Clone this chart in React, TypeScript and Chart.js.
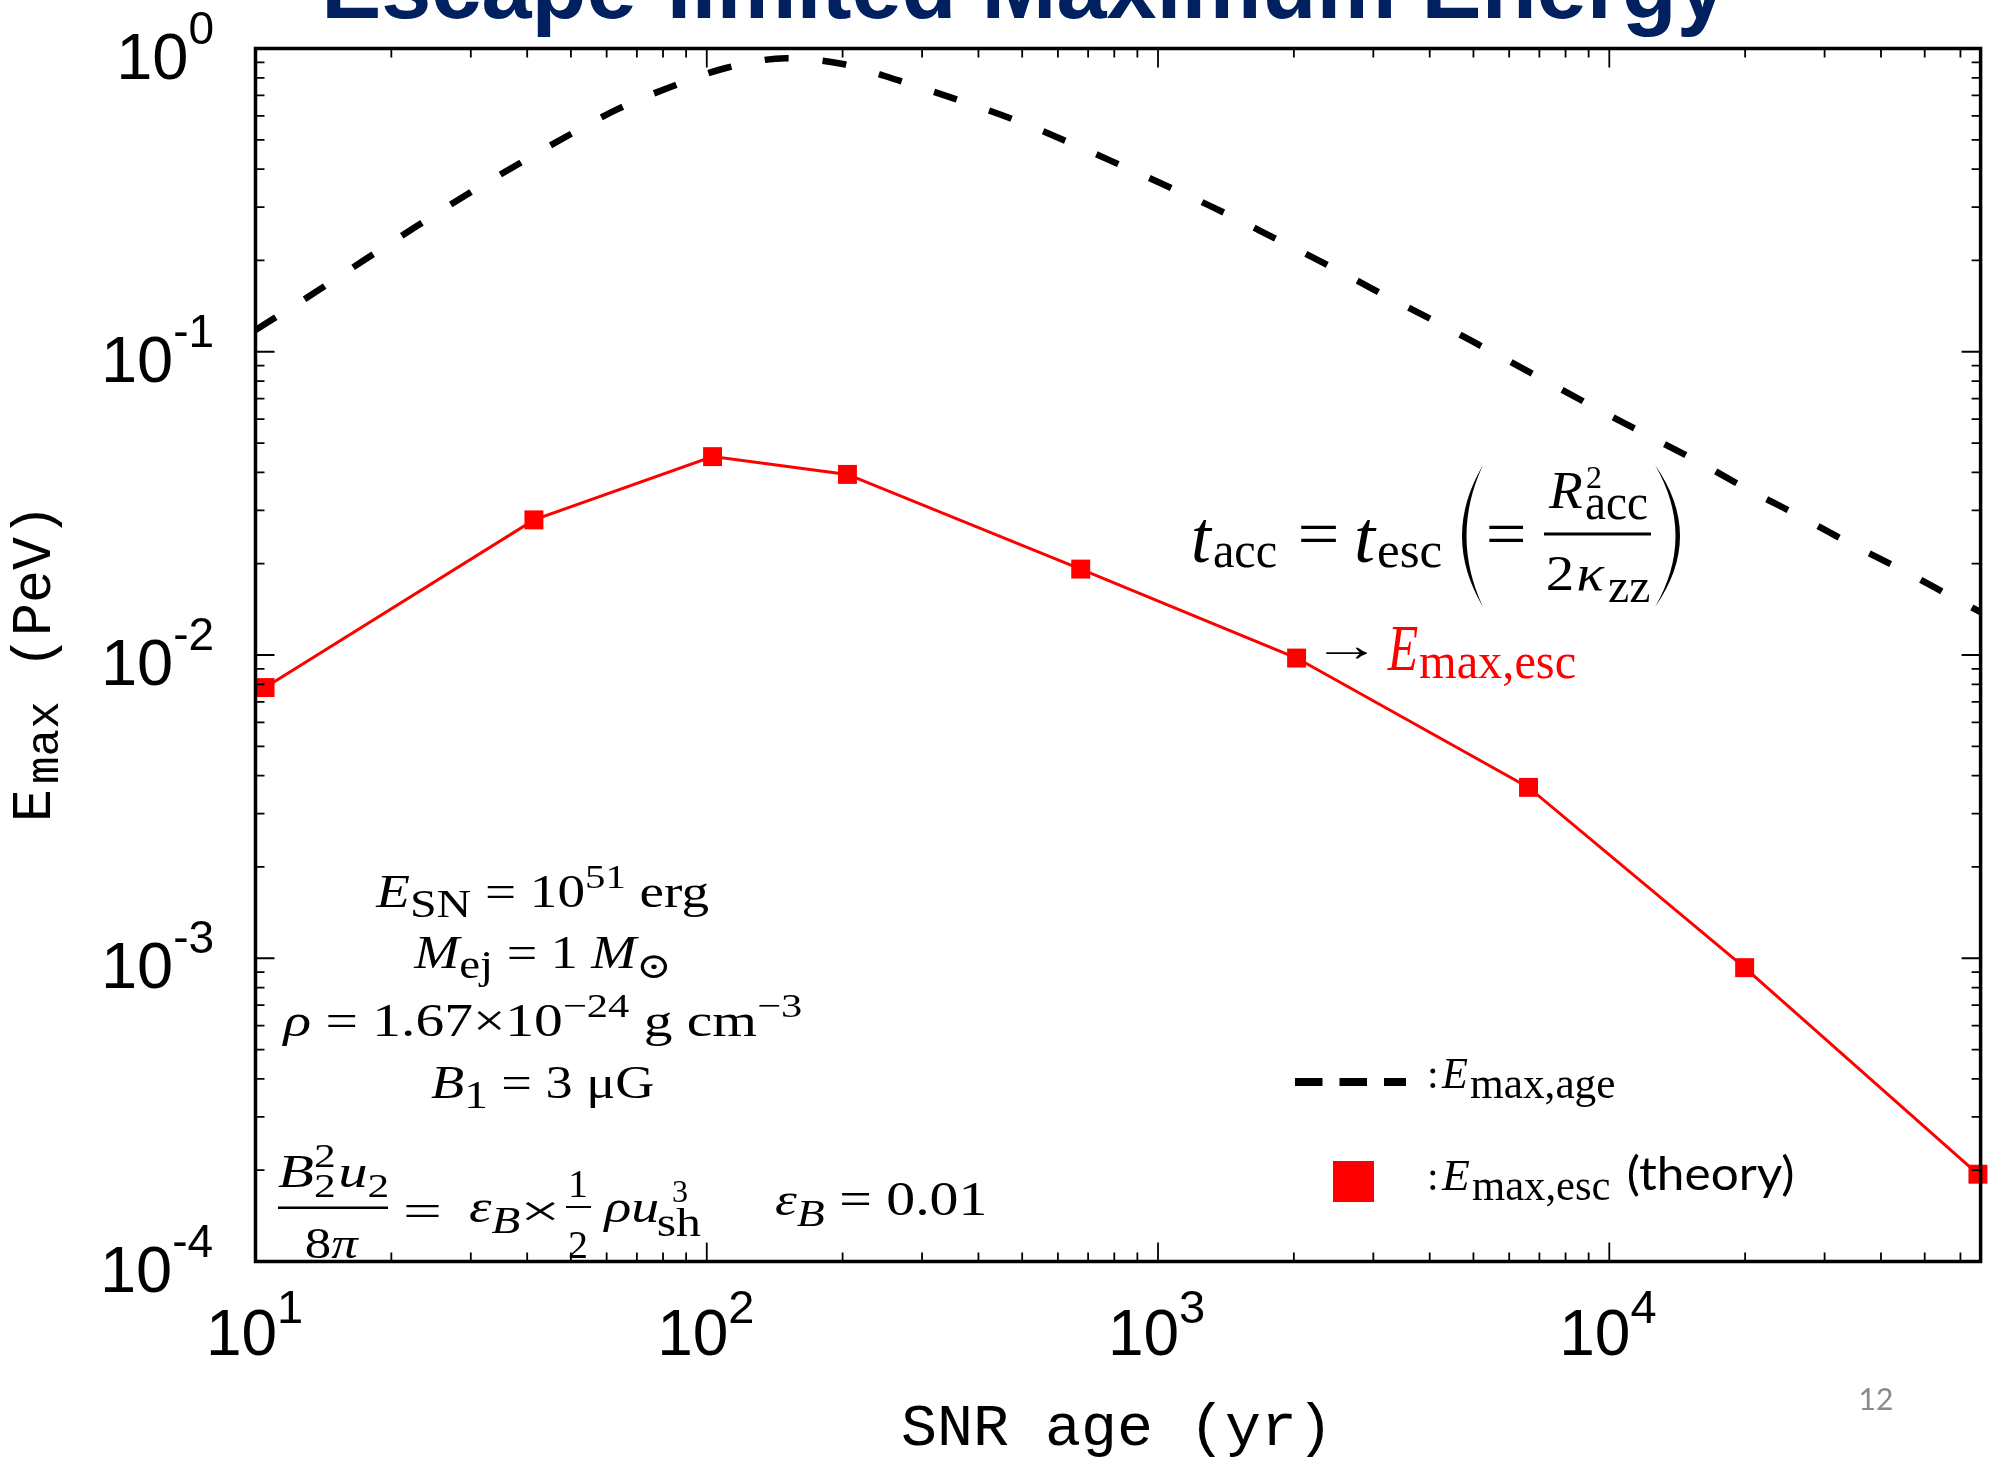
import React, { useEffect, useRef } from 'react';
import { Chart, registerables } from 'chart.js';

Chart.register(...registerables);

// ---------- data ----------
// E_max,esc (theory): red squares
const escAges = [10.5, 41.4, 103, 205, 674, 2028, 6622, 19950, 65600];
const escEmax = [7.81e-3, 0.0279, 0.0451, 0.0394, 0.0192, 9.77e-3, 3.66e-3, 9.31e-4, 1.94e-4];

// E_max,age: dashed black curve
const ageAges = [10, 13.56, 17.42, 22.38, 28.87, 37.35, 48.52, 63.3, 83.4, 110.8, 149.7, 200.2, 267.3, 343, 475.3, 622.9, 821.7, 1080, 1415, 1854, 2424, 3155, 4137, 5381, 7050, 9143, 11980, 15610, 20250, 26530, 34410, 45080, 58750, 66500];
const ageEmax = [0.1179, 0.157, 0.2007, 0.2554, 0.3246, 0.4076, 0.5096, 0.63, 0.748, 0.864, 0.928, 0.889, 0.783, 0.694, 0.5856, 0.4968, 0.4139, 0.3446, 0.2855, 0.2327, 0.1903, 0.1543, 0.1253, 0.1016, 0.0818, 0.0663, 0.0536, 0.0437, 0.0352, 0.0286, 0.0232, 0.0189, 0.01527, 0.01386];

// axes
const xMin = 10;
const xMax = 66500;
const yMin = 1e-4;
const yMax = 1;
const xMajorTicks = [10, 100, 1000, 10000];
const xTickExponents = ['1', '2', '3', '4'];
const yMajorTicks = [1, 0.1, 0.01, 0.001, 0.0001];
const yTickExponents = ['0', '-1', '-2', '-3', '-4'];

const titleText = 'Escape-limited Maximum Energy';
const xTitle = 'SNR age (yr)';
const pageNumber = '12';

// ---------- fonts ----------
const SERIF = '"Liberation Serif", "DejaVu Serif", "DejaVu Sans", serif';
const SANS = '"Liberation Sans", Arial, sans-serif';
const MONO = '"Liberation Mono", "DejaVu Sans Mono", monospace';
const LATO = 'Lato, "Open Sans", sans-serif';

type Seg = { t: string; s: number; it?: boolean; b?: boolean; dy?: number; gap?: number; fam?: string; col?: string };
type RichOpts = { w?: number; anchor?: 'left' | 'right' | 'center'; col?: string };

function fontStr(g: Seg) {
  return `${g.it ? 'italic ' : ''}${g.b ? 'bold ' : ''}${g.s}px ${g.fam ?? SERIF}`;
}

function rich(ctx: CanvasRenderingContext2D, segs: Seg[], x: number, y: number, o: RichOpts = {}) {
  ctx.save();
  ctx.textAlign = 'left';
  ctx.textBaseline = 'alphabetic';
  const pos: number[] = [];
  let cur = 0;
  let inkL = Infinity;
  let inkR = -Infinity;
  for (const g of segs) {
    ctx.font = fontStr(g);
    cur += g.gap ?? 0;
    const m = ctx.measureText(g.t);
    inkL = Math.min(inkL, cur - m.actualBoundingBoxLeft);
    inkR = Math.max(inkR, cur + m.actualBoundingBoxRight);
    pos.push(cur);
    cur += m.width;
  }
  const nat = inkR - inkL;
  const sx = o.w ? o.w / nat : 1;
  const W = nat * sx;
  let left = x;
  if (o.anchor === 'right') left = x - W;
  else if (o.anchor === 'center') left = x - W / 2;
  ctx.translate(left, y);
  ctx.scale(sx, 1);
  ctx.translate(-inkL, 0);
  segs.forEach((g, i) => {
    ctx.font = fontStr(g);
    ctx.fillStyle = g.col ?? o.col ?? '#000';
    ctx.fillText(g.t, pos[i], g.dy ?? 0);
  });
  ctx.restore();
}

function paren(ctx: CanvasRenderingContext2D, xl: number, xr: number, top: number, bot: number, isLeft: boolean) {
  const mid = (top + bot) / 2;
  ctx.save();
  ctx.fillStyle = '#000';
  ctx.beginPath();
  if (isLeft) {
    const cO = 2 * xl - xr;
    const cI = 2 * (xl + 4.5) - xr;
    ctx.moveTo(xr, top);
    ctx.quadraticCurveTo(cO, mid, xr, bot);
    ctx.quadraticCurveTo(cI, mid, xr, top);
  } else {
    const cO = 2 * xr - xl;
    const cI = 2 * (xr - 4.5) - xl;
    ctx.moveTo(xl, top);
    ctx.quadraticCurveTo(cO, mid, xl, bot);
    ctx.quadraticCurveTo(cI, mid, xl, top);
  }
  ctx.closePath();
  ctx.fill();
  ctx.restore();
}

const framePlugin = {
  id: 'frameTicks',
  afterDatasetsDraw(chart: any) {
    const { ctx, chartArea: a, scales } = chart;
    const xs = scales.x;
    const ys = scales.y;
    ctx.save();
    ctx.strokeStyle = '#000';
    ctx.lineWidth = 1.8;
    ctx.beginPath();
    xMajorTicks.forEach((d) => {
      for (let m = 1; m <= 9; m++) {
        const v = d * m;
        if (v < xMin - 1e-9 || v > xMax) continue;
        const p = xs.getPixelForValue(v);
        const L = m === 1 ? 19 : 9;
        ctx.moveTo(p, a.bottom);
        ctx.lineTo(p, a.bottom - L);
        ctx.moveTo(p, a.top);
        ctx.lineTo(p, a.top + L);
      }
    });
    yMajorTicks.forEach((d) => {
      for (let m = 1; m <= 9; m++) {
        const v = d * m;
        if (v < yMin * 0.999 || v > yMax * 1.001) continue;
        const p = ys.getPixelForValue(v);
        const L = m === 1 ? 19 : 9;
        ctx.moveTo(a.left, p);
        ctx.lineTo(a.left + L, p);
        ctx.moveTo(a.right, p);
        ctx.lineTo(a.right - L, p);
      }
    });
    ctx.stroke();
    ctx.lineWidth = 3.5;
    ctx.strokeRect(a.left, a.top, a.right - a.left, a.bottom - a.top);
    ctx.restore();
  },
};

const textPlugin = {
  id: 'texts',
  afterDraw(chart: any) {
    const { ctx, chartArea: a, scales } = chart;
    const xs = scales.x;
    const ys = scales.y;
    ctx.save();

    // title (cut at the top of the page)
    ctx.save();
    ctx.font = `bold 90px ${SANS}`;
    ctx.fillStyle = '#002060';
    ctx.textAlign = 'center';
    ctx.textBaseline = 'alphabetic';
    ctx.fillText(titleText, 1024, 17.5);
    ctx.restore();

    // y tick labels
    yMajorTicks.forEach((v, i) => {
      const p = ys.getPixelForValue(v);
      rich(ctx, [
        { t: '10', s: 65, fam: SANS },
        { t: yTickExponents[i], s: 46, dy: -35, fam: SANS },
      ], a.left - 43, p + 30, { anchor: 'right' });
    });
    // x tick labels
    xMajorTicks.forEach((v, i) => {
      const p = xs.getPixelForValue(v);
      rich(ctx, [
        { t: '10', s: 64, fam: SANS },
        { t: xTickExponents[i], s: 47, dy: -32, fam: SANS },
      ], p, 1355, { anchor: 'center' });
    });

    // axis titles
    ctx.save();
    ctx.fillStyle = '#000';
    ctx.textAlign = 'center';
    ctx.textBaseline = 'alphabetic';
    ctx.font = `60px ${MONO}`;
    ctx.fillText(xTitle, 1117, 1445);
    ctx.restore();

    ctx.save();
    ctx.fillStyle = '#000';
    ctx.translate(50, 822);
    ctx.rotate(-Math.PI / 2);
    ctx.textAlign = 'left';
    ctx.textBaseline = 'alphabetic';
    ctx.font = `55px ${MONO}`;
    ctx.fillText('E', 0, 0);
    ctx.font = `46px ${MONO}`;
    ctx.fillText('max', 38, 8);
    ctx.font = `55px ${MONO}`;
    ctx.fillText('(PeV)', 153, 0);
    ctx.restore();

    // page number
    ctx.save();
    ctx.font = `30px ${LATO}`;
    ctx.fillStyle = '#8a8a8a';
    ctx.textAlign = 'center';
    ctx.fillText(pageNumber, 1876, 1410);
    ctx.restore();

    // ---- equation t_acc = t_esc (= R^2_acc / 2 kappa_zz) ----
    rich(ctx, [{ t: 't', s: 74, it: true }, { t: 'acc', s: 50, dy: 5, gap: 2 }], 1194, 562, { w: 82 });
    rich(ctx, [{ t: '=', s: 66 }], 1301, 556, { w: 35 });
    rich(ctx, [{ t: 't', s: 74, it: true }, { t: 'esc', s: 50, dy: 5, gap: 2 }], 1357, 562, { w: 84 });
    paren(ctx, 1462, 1483, 465, 607, true);
    rich(ctx, [{ t: '=', s: 66 }], 1489, 556, { w: 34 });
    ctx.fillStyle = '#000';
    ctx.fillRect(1544, 532.5, 107, 3);
    rich(ctx, [{ t: 'R', s: 52, it: true }], 1548, 508, { w: 34 });
    rich(ctx, [{ t: '2', s: 32 }], 1587, 488, {});
    rich(ctx, [{ t: 'acc', s: 50 }], 1586, 519, { w: 61 });
    rich(ctx, [{ t: '2', s: 50 }, { t: 'κ', s: 50, it: true, gap: 2 }], 1548, 590, { w: 57 });
    rich(ctx, [{ t: 'zz', s: 48 }], 1609, 602, { w: 40 });
    paren(ctx, 1655, 1680, 465, 607, false);

    // arrow + E_max,esc (red)
    rich(ctx, [{ t: '→', s: 46 }], 1326, 661, { w: 42 });
    rich(ctx, [{ t: 'E', s: 66, it: true }], 1387, 670, { w: 31, col: '#ff0000' });
    rich(ctx, [{ t: 'max,esc', s: 50 }], 1420, 678, { w: 155, col: '#ff0000' });

    // ---- parameter block ----
    rich(ctx, [
      { t: 'E', s: 46, it: true },
      { t: 'SN', s: 40, dy: 10 },
      { t: ' = 10', s: 46 },
      { t: '51', s: 34, dy: -19 },
      { t: ' erg', s: 46 },
    ], 375, 907, { w: 334 });
    rich(ctx, [
      { t: 'M', s: 46, it: true },
      { t: 'ej', s: 40, dy: 10 },
      { t: ' = 1 ', s: 46 },
      { t: 'M', s: 46, it: true },
      { t: '⊙', s: 36, dy: 10 },
    ], 413, 968, { w: 255 });
    rich(ctx, [
      { t: 'ρ', s: 46, it: true },
      { t: ' = 1.67×10', s: 46 },
      { t: '−24', s: 34, dy: -19 },
      { t: ' g cm', s: 46 },
      { t: '−3', s: 34, dy: -19 },
    ], 281, 1036, { w: 520 });
    rich(ctx, [
      { t: 'B', s: 46, it: true },
      { t: '1', s: 40, dy: 10 },
      { t: ' = 3 μG', s: 46 },
    ], 431, 1098, { w: 222 });

    // B2^2 u2 / 8pi = eps_B x 1/2 rho u_sh^3   eps_B = 0.01
    rich(ctx, [
      { t: 'B', s: 46, it: true },
      { t: '2', s: 34, dy: -20 },
      { t: '2', s: 34, dy: 10, gap: -17 },
      { t: 'u', s: 46, it: true, gap: 2 },
      { t: '2', s: 34, dy: 10 },
    ], 278, 1187, { w: 110 });
    ctx.fillStyle = '#000';
    ctx.fillRect(278, 1206.5, 110, 2.5);
    rich(ctx, [{ t: '8', s: 44 }, { t: 'π', s: 44, it: true }], 306, 1258, { w: 54 });
    rich(ctx, [{ t: '=', s: 46 }], 406, 1226, { w: 33 });
    rich(ctx, [{ t: 'ε', s: 46, it: true }, { t: 'B', s: 38, it: true, dy: 11 }], 469, 1222, { w: 51 });
    rich(ctx, [{ t: '×', s: 44 }], 525, 1226, { w: 31 });
    rich(ctx, [{ t: '1', s: 40 }], 571, 1197, {});
    ctx.fillStyle = '#000';
    ctx.fillRect(566, 1206, 25, 2);
    rich(ctx, [{ t: '2', s: 40 }], 569, 1258, {});
    rich(ctx, [{ t: 'ρ', s: 46, it: true }, { t: 'u', s: 46, it: true }], 602, 1222, { w: 56 });
    rich(ctx, [{ t: '3', s: 32 }], 673, 1202, {});
    rich(ctx, [{ t: 'sh', s: 40 }], 658, 1236, { w: 43 });
    rich(ctx, [
      { t: 'ε', s: 46, it: true },
      { t: 'B', s: 38, it: true, dy: 11 },
      { t: ' = 0.01', s: 48 },
    ], 775, 1215, { w: 210 });

    // ---- legend ----
    ctx.save();
    ctx.strokeStyle = '#000';
    ctx.lineWidth = 8;
    ctx.setLineDash([27.5, 17]);
    ctx.beginPath();
    ctx.moveTo(1295, 1082);
    ctx.lineTo(1406, 1082);
    ctx.stroke();
    ctx.restore();
    rich(ctx, [{ t: ':', s: 42 }], 1430, 1088, {});
    rich(ctx, [{ t: 'E', s: 44, it: true }], 1441, 1088, { w: 27 });
    rich(ctx, [{ t: 'max,age', s: 44 }], 1470, 1098, { w: 144 });

    ctx.fillStyle = '#ff0000';
    ctx.fillRect(1333, 1161, 41, 41);
    rich(ctx, [{ t: ':', s: 42 }], 1430, 1190, {});
    rich(ctx, [{ t: 'E', s: 44, it: true }], 1441, 1190, { w: 29 });
    rich(ctx, [{ t: 'max,esc', s: 44 }], 1472, 1200, { w: 138 });
    rich(ctx, [{ t: '(theory)', s: 46, fam: LATO }], 1629, 1190, { w: 164 });

    ctx.restore();
  },
};

export default function App() {
  const ref = useRef<HTMLCanvasElement | null>(null);
  useEffect(() => {
    if (!ref.current) return;
    const chart = new Chart(ref.current, {
      type: 'line',
      data: {
        datasets: [
          {
            label: 'E_max,age',
            data: ageAges.map((x, i) => ({ x, y: ageEmax[i] })),
            borderColor: '#000000',
            borderWidth: 6.5,
            borderDash: [24, 34],
            pointRadius: 0,
            cubicInterpolationMode: 'monotone',
            fill: false,
          },
          {
            label: 'E_max,esc (theory)',
            data: escAges.map((x, i) => ({ x, y: escEmax[i] })),
            borderColor: '#ff0000',
            borderWidth: 3,
            pointStyle: 'rect',
            pointRadius: 13.4,
            pointBackgroundColor: '#ff0000',
            pointBorderColor: '#ff0000',
            pointBorderWidth: 0,
            tension: 0,
            fill: false,
            clip: false,
          },
        ],
      } as any,
      options: {
        responsive: false,
        animation: false,
        events: [],
        layout: { padding: { left: 255.5, top: 48.5, right: 11.5, bottom: 195.5 } },
        scales: {
          x: { type: 'logarithmic', min: xMin, max: xMax, display: false },
          y: { type: 'logarithmic', min: yMin, max: yMax, display: false },
        },
        plugins: {
          legend: { display: false },
          title: { display: false },
          tooltip: { enabled: false },
        },
      } as any,
      plugins: [framePlugin, textPlugin],
    });
    return () => chart.destroy();
  }, []);
  return (
    <div style={{ position: 'fixed', left: 0, top: 0, width: 1994, height: 1457, background: '#fff' }}>
      <canvas ref={ref} width={1994} height={1457} style={{ display: 'block' }} />
    </div>
  );
}
